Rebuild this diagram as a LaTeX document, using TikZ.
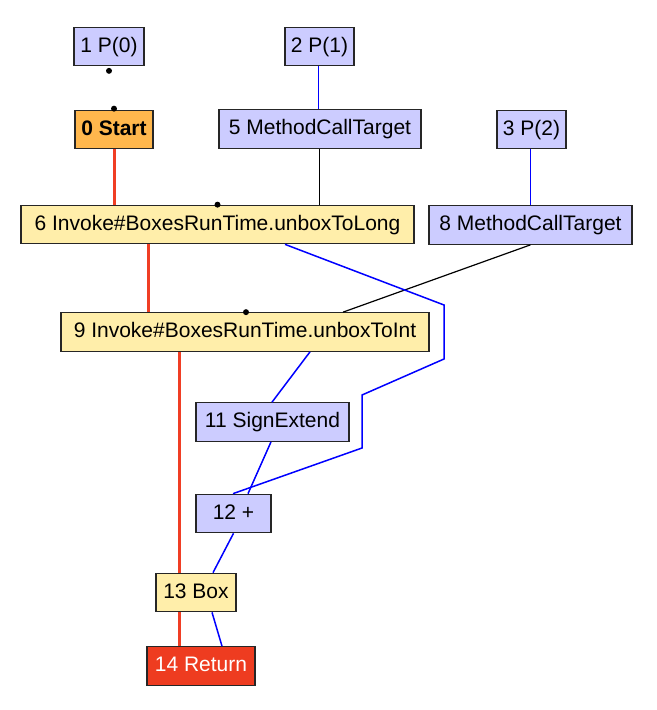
\documentclass[tikz,border=0pt]{standalone}
\usepackage{fontspec}
\setmainfont{Liberation Sans}
\definecolor{lav}{RGB}{204,204,255}
\definecolor{yel}{RGB}{255,238,170}
\definecolor{org}{RGB}{255,183,77}
\definecolor{ret}{RGB}{238,60,32}
\definecolor{redge}{RGB}{240,62,36}
\definecolor{bedge}{RGB}{0,0,255}
\begin{document}
\begin{tikzpicture}[x=1bp,y=-1bp,
  box/.style={draw=black!85,line width=1.2bp,inner sep=0pt,minimum height=38.5bp,
    font=\fontsize{21bp}{24bp}\selectfont,text height=15bp,text depth=3.5bp},
  lv/.style={box,fill=lav},
  yv/.style={box,fill=yel},
  ctrl/.style={draw=redge,line width=3bp},
  data/.style={draw=bedge,line width=1.5bp},
  dep/.style={draw=black,line width=1.2bp},
  port/.style={fill=black}]
\useasboundingbox[fill=white] (0,0) rectangle (657,710);
\node[lv,minimum width=70bp] (n1) at (109,46.5) {1 P(0)};
\node[lv,minimum width=69bp] (n2) at (319.5,46.5) {2 P(1)};
\node[box,fill=org,minimum width=78bp,font=\fontsize{21bp}{24bp}\selectfont\bfseries] (n0) at (114,129.5) {0 Start};
\node[lv,minimum width=202bp] (n5) at (320,129) {5 MethodCallTarget};
\node[lv,minimum width=69bp] (n3) at (531.5,129.5) {3 P(2)};
\node[yv,minimum width=393bp] (n6) at (217.5,224.5) {6 Invoke\#BoxesRunTime.unboxToLong};
\node[lv,minimum width=203bp] (n8) at (530.5,225) {8 MethodCallTarget};
\node[yv,minimum width=368bp] (n9) at (245,332) {9 Invoke\#BoxesRunTime.unboxToInt};
\node[lv,minimum width=153bp] (n11) at (272.5,422) {11 SignExtend};
\node[lv,minimum width=75bp] (n12) at (233.5,513.5) {12 +};
\node[yv,minimum width=80bp] (n13) at (196,592.5) {13 Box};
\node[box,fill=ret,text=white,minimum width=108bp] (n14) at (201,666) {14 Return};
% ports
\coordinate (p1) at ([yshift=-4.5bp]n1.south);
\coordinate (p0) at ([yshift=1bp]n0.north);
\coordinate (p6) at (n6.north);
\coordinate (p9) at ([xshift=1bp]n9.north);
\foreach \p in {p1,p0,p6,p9} \fill[port] (\p) circle (3bp);
% control flow
\draw[ctrl] (n0.south) -- (n0.south |- n6.north);
\draw[ctrl] ([xshift=-69.5bp]n6.south) coordinate (c6) -- (c6 |- n9.north);
\draw[ctrl] ([xshift=-66bp]n9.south) coordinate (c9) -- (c9 |- n13.north);
\draw[ctrl] ([xshift=-17bp]n13.south) coordinate (c13) -- (c13 |- n14.north);
% dependencies
\draw[dep] ([xshift=-0.5bp]n5.south) coordinate (d5) -- (d5 |- n6.north);
\draw[dep] (n8.south) -- ([xshift=98bp]n9.north);
% data
\draw[data] ([xshift=-1bp]n2.south) coordinate (d2) -- (d2 |- n5.north);
\draw[data] ([xshift=-1bp]n3.south) coordinate (d3) -- (d3 |- n8.north);
\draw[data] ([xshift=67.5bp]n6.south) -- (444,305) -- (444,359) -- (362,395) -- (362,448) -- ([xshift=-0.5bp]n12.north);
\draw[data] ([xshift=65bp]n9.south) -- ([xshift=-0.5bp]n11.north);
\draw[data] ([xshift=-1.5bp]n11.south) -- ([xshift=14.5bp]n12.north);
\draw[data] (n12.south) -- ([xshift=17bp]n13.north);
\draw[data] ([xshift=16bp]n13.south) -- ([xshift=21bp]n14.north);
\end{tikzpicture}
\end{document}
